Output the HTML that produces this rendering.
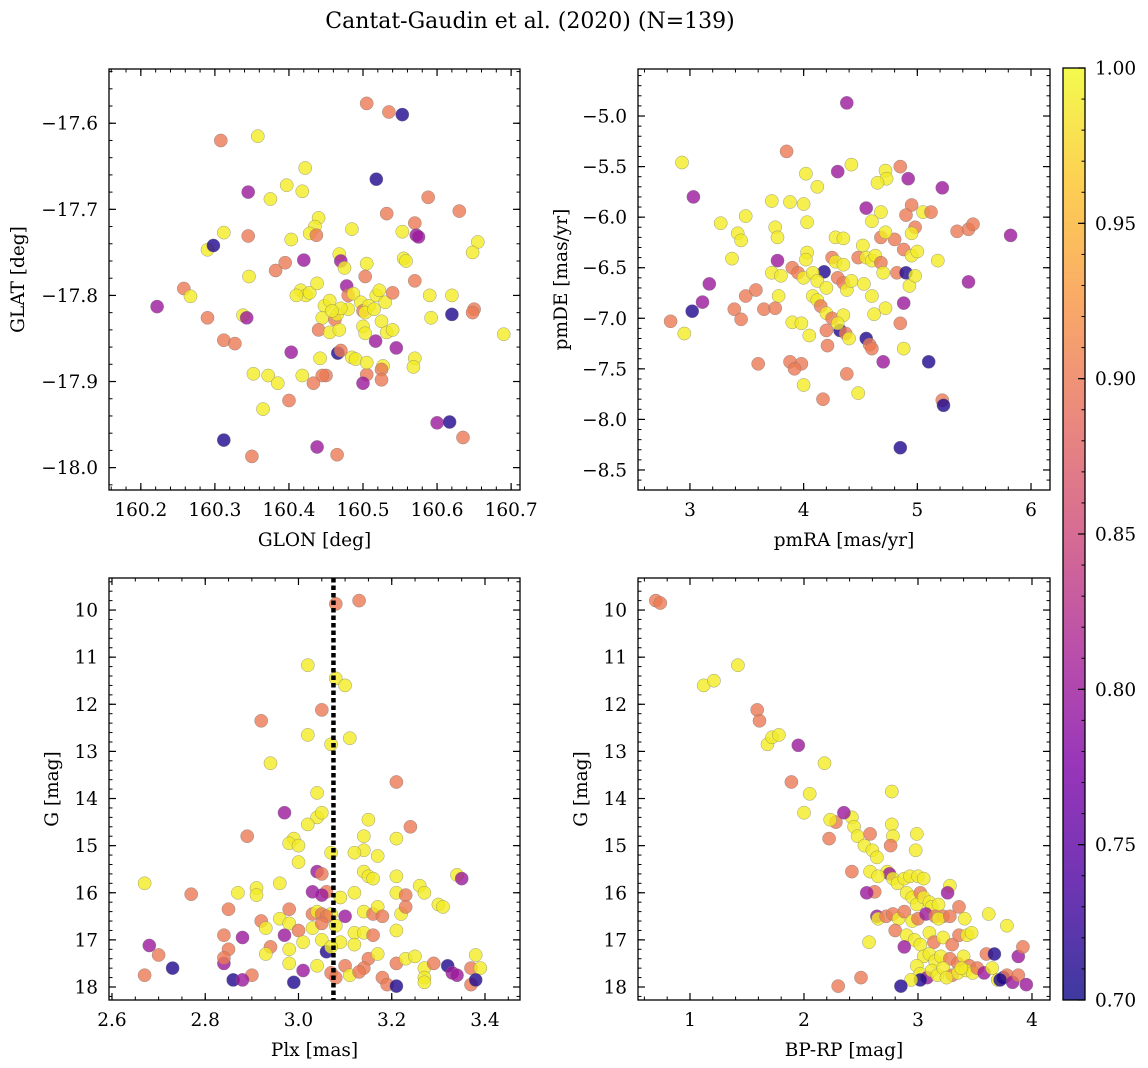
<!DOCTYPE html>
<html><head><meta charset="utf-8"><style>
html,body{margin:0;padding:0;background:#fff;}
svg{display:block;font-family:"DejaVu Serif","Liberation Serif",serif;}
</style></head><body>
<svg id="fig" width="1148" height="1068" xmlns="http://www.w3.org/2000/svg">
<defs>
<linearGradient id="plasma" x1="0" y1="1" x2="0" y2="0">
<stop offset="0" stop-color="#0d0887"/><stop offset="0.125" stop-color="#4c02a1"/><stop offset="0.25" stop-color="#7e03a8"/><stop offset="0.375" stop-color="#a92395"/><stop offset="0.5" stop-color="#cc4778"/><stop offset="0.625" stop-color="#e56b5d"/><stop offset="0.75" stop-color="#f89441"/><stop offset="0.875" stop-color="#fdc328"/><stop offset="1" stop-color="#f0f921"/>
</linearGradient>
</defs>
<text x="530" y="28" font-size="22" text-anchor="middle">Cantat-Gaudin et al. (2020) (N=139)</text>
</svg>
<script>
const Y=0.99,O=0.90,P=0.80,B=0.71;
const glonGlat=[[160.505,-17.577,O],[160.535,-17.587,O],[160.553,-17.590,B],[160.308,-17.620,O],[160.358,-17.615,Y],[160.518,-17.665,B],[160.290,-17.747,Y],[160.298,-17.742,B],[160.312,-17.727,Y],[160.345,-17.680,P],[160.375,-17.688,Y],[160.397,-17.672,Y],[160.422,-17.652,Y],[160.418,-17.679,Y],[160.440,-17.710,Y],[160.435,-17.720,Y],[160.428,-17.728,Y],[160.437,-17.730,O],[160.345,-17.731,O],[160.403,-17.735,Y],[160.485,-17.723,Y],[160.532,-17.705,O],[160.588,-17.686,O],[160.630,-17.702,O],[160.570,-17.716,O],[160.553,-17.726,Y],[160.572,-17.730,P],[160.575,-17.732,P],[160.655,-17.738,Y],[160.648,-17.750,Y],[160.468,-17.752,Y],[160.470,-17.760,P],[160.420,-17.759,P],[160.346,-17.778,Y],[160.382,-17.771,O],[160.395,-17.762,O],[160.555,-17.757,Y],[160.558,-17.760,Y],[160.505,-17.763,Y],[160.475,-17.768,Y],[160.503,-17.778,O],[160.570,-17.783,O],[160.222,-17.813,P],[160.258,-17.792,O],[160.267,-17.801,Y],[160.290,-17.826,O],[160.338,-17.823,Y],[160.343,-17.826,P],[160.416,-17.794,Y],[160.423,-17.800,Y],[160.428,-17.797,Y],[160.438,-17.786,Y],[160.448,-17.812,Y],[160.455,-17.806,Y],[160.478,-17.789,P],[160.480,-17.800,O],[160.487,-17.798,Y],[160.497,-17.808,Y],[160.500,-17.818,O],[160.508,-17.812,Y],[160.518,-17.800,Y],[160.522,-17.794,Y],[160.530,-17.808,Y],[160.540,-17.797,O],[160.590,-17.800,Y],[160.620,-17.800,Y],[160.650,-17.816,O],[160.648,-17.820,O],[160.620,-17.822,B],[160.592,-17.826,Y],[160.445,-17.826,Y],[160.462,-17.828,O],[160.465,-17.822,Y],[160.480,-17.816,Y],[160.503,-17.820,Y],[160.515,-17.816,Y],[160.525,-17.830,Y],[160.532,-17.843,Y],[160.540,-17.840,Y],[160.440,-17.840,O],[160.455,-17.843,Y],[160.468,-17.840,Y],[160.500,-17.836,Y],[160.503,-17.844,Y],[160.517,-17.853,P],[160.312,-17.852,O],[160.327,-17.856,O],[160.403,-17.866,P],[160.466,-17.867,B],[160.470,-17.864,O],[160.485,-17.872,Y],[160.490,-17.874,Y],[160.442,-17.873,Y],[160.545,-17.861,P],[160.570,-17.873,Y],[160.568,-17.883,Y],[160.527,-17.882,Y],[160.525,-17.886,O],[160.505,-17.892,O],[160.500,-17.902,P],[160.505,-17.878,Y],[160.450,-17.893,O],[160.445,-17.893,O],[160.433,-17.902,O],[160.418,-17.893,Y],[160.372,-17.893,Y],[160.385,-17.902,Y],[160.352,-17.891,Y],[160.525,-17.898,O],[160.400,-17.922,O],[160.365,-17.932,Y],[160.312,-17.968,B],[160.438,-17.976,P],[160.350,-17.987,O],[160.465,-17.985,O],[160.600,-17.948,P],[160.617,-17.947,B],[160.635,-17.965,O],[160.690,-17.845,Y],[160.470,-17.815,Y],[160.410,-17.800,Y],[160.458,-17.818,Y]];
const pmRaDe=[[4.38,-4.87,P],[3.85,-5.35,O],[2.93,-5.46,Y],[4.42,-5.48,Y],[4.30,-5.55,P],[4.72,-5.54,Y],[4.85,-5.50,O],[4.92,-5.62,P],[4.73,-5.62,Y],[4.65,-5.66,Y],[4.02,-5.57,Y],[4.12,-5.70,Y],[3.03,-5.80,P],[5.22,-5.71,P],[3.49,-5.99,Y],[3.72,-5.84,Y],[3.88,-5.85,Y],[4.00,-5.87,Y],[4.95,-5.88,O],[5.05,-5.95,Y],[5.12,-5.95,O],[4.90,-5.98,O],[4.55,-5.91,P],[4.68,-5.95,Y],[4.60,-6.04,Y],[3.27,-6.06,Y],[3.42,-6.16,Y],[3.45,-6.23,Y],[3.75,-6.10,Y],[3.77,-6.20,Y],[4.03,-6.05,Y],[4.28,-6.20,Y],[4.35,-6.21,Y],[4.52,-6.28,Y],[4.68,-6.20,O],[4.80,-6.22,O],[4.72,-6.15,Y],[4.98,-6.10,O],[4.95,-6.16,Y],[5.35,-6.14,O],[5.45,-6.12,O],[5.49,-6.07,O],[5.82,-6.18,P],[4.88,-6.32,O],[4.95,-6.38,Y],[5.00,-6.34,Y],[5.18,-6.43,Y],[4.18,-6.54,B],[4.03,-6.35,Y],[4.02,-6.42,Y],[4.25,-6.40,O],[4.28,-6.44,Y],[4.35,-6.47,Y],[4.48,-6.40,O],[4.55,-6.40,Y],[4.60,-6.43,Y],[4.63,-6.38,Y],[4.68,-6.45,O],[3.37,-6.41,Y],[3.77,-6.43,P],[3.72,-6.55,Y],[3.80,-6.58,Y],[3.90,-6.50,O],[3.95,-6.55,O],[4.00,-6.60,Y],[4.08,-6.55,Y],[4.12,-6.63,Y],[4.20,-6.70,Y],[4.30,-6.60,O],[4.35,-6.65,O],[4.38,-6.72,Y],[4.42,-6.63,Y],[4.53,-6.66,Y],[4.60,-6.78,Y],[4.70,-6.55,Y],[4.82,-6.55,O],[4.90,-6.55,B],[4.93,-6.68,Y],[4.98,-6.58,Y],[4.88,-6.85,P],[5.45,-6.64,P],[3.17,-6.66,P],[3.11,-6.84,P],[3.02,-6.93,B],[3.39,-6.91,O],[3.49,-6.78,O],[3.58,-6.72,O],[3.45,-7.01,O],[3.65,-6.91,O],[3.78,-6.78,Y],[3.75,-6.90,O],[3.90,-7.04,Y],[3.98,-7.05,Y],[4.08,-6.78,Y],[4.12,-6.82,Y],[4.15,-6.88,O],[4.20,-6.95,Y],[4.25,-7.00,O],[4.35,-6.97,Y],[4.32,-7.12,B],[4.37,-7.15,O],[4.40,-7.20,Y],[4.30,-7.05,Y],[4.62,-6.96,Y],[4.72,-6.90,Y],[4.55,-7.20,B],[4.58,-7.26,O],[4.60,-7.30,O],[4.85,-7.05,O],[4.88,-7.30,Y],[4.70,-7.43,P],[5.10,-7.43,B],[4.21,-7.27,O],[4.20,-7.12,O],[2.83,-7.03,O],[2.95,-7.15,Y],[3.60,-7.45,O],[3.88,-7.43,O],[3.98,-7.45,O],[3.92,-7.50,O],[4.00,-7.66,Y],[4.17,-7.80,O],[4.38,-7.55,O],[4.48,-7.74,Y],[5.22,-7.81,O],[5.23,-7.86,B],[4.85,-8.28,B],[4.05,-7.17,Y]];
const plxG=[[3.08,9.87,O],[3.13,9.80,O],[3.02,11.17,Y],[3.08,11.45,Y],[3.10,11.60,Y],[3.05,12.12,O],[3.02,12.65,Y],[3.11,12.72,Y],[2.92,12.35,O],[3.07,12.85,Y],[2.94,13.25,Y],[3.21,13.65,O],[3.04,13.88,Y],[2.97,14.30,P],[3.04,14.40,Y],[3.05,14.30,Y],[3.15,14.45,Y],[3.02,14.55,Y],[2.89,14.80,O],[2.99,14.85,Y],[3.14,14.80,Y],[3.21,14.85,Y],[3.24,14.60,O],[2.98,14.95,Y],[3.00,15.00,Y],[3.14,15.10,Y],[3.12,15.15,Y],[3.07,15.15,Y],[3.17,15.22,Y],[3.00,15.35,Y],[3.04,15.55,P],[3.05,15.60,O],[3.14,15.55,Y],[3.15,15.65,Y],[3.16,15.70,Y],[3.21,15.65,Y],[3.34,15.62,Y],[3.35,15.70,P],[2.67,15.80,Y],[2.77,16.03,O],[2.87,16.00,Y],[2.91,15.90,Y],[2.96,15.80,Y],[2.91,16.05,Y],[3.03,15.98,P],[3.06,15.98,O],[3.05,16.05,P],[3.09,16.10,Y],[3.12,16.00,Y],[3.21,16.00,Y],[3.23,16.05,O],[3.26,15.85,Y],[3.27,16.00,Y],[3.30,16.25,Y],[3.31,16.30,Y],[2.92,16.60,O],[2.96,16.55,Y],[2.98,16.35,O],[3.03,16.45,O],[3.04,16.40,Y],[3.05,16.45,O],[3.07,16.45,Y],[3.06,16.50,O],[3.10,16.50,P],[3.14,16.40,Y],[3.16,16.45,O],[3.17,16.30,Y],[3.18,16.50,O],[3.22,16.45,Y],[3.23,16.30,O],[2.85,16.35,O],[2.93,16.75,Y],[2.98,16.65,Y],[3.00,16.80,O],[3.03,16.75,Y],[3.05,16.65,O],[3.08,16.70,Y],[3.12,16.85,Y],[3.14,16.85,Y],[3.16,16.90,O],[3.21,16.80,Y],[2.88,16.95,P],[2.94,17.15,O],[2.97,16.90,P],[3.01,17.05,Y],[3.05,17.00,Y],[3.09,17.05,Y],[3.12,17.10,Y],[3.15,17.40,O],[3.17,17.30,Y],[3.06,17.25,B],[3.07,17.15,Y],[2.84,16.90,O],[2.85,17.20,O],[2.84,17.50,P],[2.68,17.12,P],[2.70,17.32,O],[2.67,17.75,O],[2.73,17.60,B],[2.84,17.38,O],[2.90,17.75,O],[2.93,17.30,Y],[2.98,17.50,Y],[3.01,17.65,P],[3.04,17.55,Y],[3.10,17.55,O],[3.11,17.75,Y],[3.14,17.60,O],[3.07,17.70,O],[3.08,17.80,O],[3.18,17.80,O],[3.21,17.50,O],[3.23,17.40,Y],[3.25,17.35,Y],[3.27,17.60,Y],[3.27,17.80,Y],[3.27,17.90,Y],[3.29,17.50,O],[3.32,17.55,B],[3.33,17.70,P],[3.34,17.75,P],[3.37,17.60,O],[3.38,17.32,Y],[3.39,17.60,Y],[3.37,17.95,O],[3.38,17.85,B],[2.86,17.85,B],[2.88,17.85,P],[2.99,17.90,B],[3.19,17.95,O],[3.21,17.98,B],[3.13,17.68,O],[2.98,17.20,Y]];
const bprpG=[[0.70,9.80,O],[0.74,9.85,O],[1.12,11.60,Y],[1.21,11.50,Y],[1.42,11.17,Y],[1.59,12.12,O],[1.61,12.35,O],[1.68,12.85,Y],[1.72,12.70,Y],[1.78,12.65,Y],[1.95,12.87,P],[2.18,13.25,Y],[1.89,13.65,O],[2.00,14.30,Y],[2.05,13.90,Y],[2.28,14.50,O],[2.23,14.45,Y],[2.42,14.40,Y],[2.35,14.30,P],[2.44,14.60,Y],[2.47,14.80,Y],[2.53,15.00,Y],[2.58,14.75,O],[2.22,14.85,O],[2.60,15.10,Y],[2.64,15.25,Y],[2.77,13.85,Y],[2.77,14.55,Y],[2.78,14.80,Y],[2.76,15.00,O],[2.99,14.75,Y],[2.98,15.10,Y],[2.73,15.55,Y],[2.75,15.60,P],[2.78,15.70,Y],[2.42,15.55,O],[2.58,15.55,Y],[2.65,15.65,Y],[2.62,15.98,O],[2.55,16.00,P],[2.82,15.80,Y],[2.88,15.70,Y],[2.93,15.65,Y],[3.00,15.65,Y],[3.05,15.70,Y],[2.90,16.00,Y],[2.95,16.10,Y],[2.99,16.25,Y],[3.02,16.00,O],[3.05,16.10,Y],[3.10,16.20,Y],[3.12,16.30,Y],[3.18,16.25,Y],[3.28,15.85,Y],[3.26,16.00,P],[3.22,16.50,O],[2.64,16.50,P],[2.65,16.55,Y],[2.72,16.50,O],[2.78,16.45,O],[2.83,16.55,Y],[2.88,16.40,O],[2.95,16.60,Y],[3.00,16.55,O],[3.07,16.45,P],[3.15,16.50,O],[3.18,16.55,Y],[3.28,16.50,O],[3.36,16.30,O],[3.41,16.55,Y],[3.62,16.45,Y],[3.78,16.70,Y],[2.57,17.05,Y],[2.80,16.80,O],[2.90,16.90,Y],[2.97,17.00,Y],[3.02,17.10,Y],[3.10,16.85,Y],[3.14,17.05,O],[3.22,16.95,Y],[3.30,17.10,O],[3.36,16.90,O],[3.43,16.90,Y],[3.47,16.85,Y],[2.88,17.15,P],[3.05,17.35,Y],[3.10,17.30,Y],[3.15,17.45,Y],[3.20,17.35,Y],[3.28,17.40,O],[3.35,17.50,O],[3.40,17.35,Y],[3.45,17.55,O],[3.60,17.30,O],[3.67,17.30,B],[3.88,17.35,P],[3.92,17.15,O],[2.99,17.55,Y],[3.02,17.72,Y],[3.08,17.80,P],[3.12,17.65,Y],[3.17,17.75,Y],[3.22,17.60,Y],[3.30,17.75,O],[3.35,17.70,Y],[3.42,17.65,Y],[3.48,17.70,Y],[3.52,17.60,O],[3.58,17.70,P],[3.65,17.60,Y],[3.70,17.85,Y],[3.75,17.80,B],[3.78,17.75,O],[3.83,17.90,P],[3.88,17.75,O],[3.95,17.95,P],[3.02,17.85,B],[2.94,17.85,Y],[2.85,17.98,B],[2.50,17.80,O],[2.30,17.98,O],[3.72,17.85,B],[3.25,17.80,Y],[3.38,17.60,Y]];
const glonTicks=[160.2,160.3,160.4,160.5,160.6,160.7];
const glatTicks=[-17.6,-17.7,-17.8,-17.9,-18.0];
const pmraTicks=[3,4,5,6];
const pmdeTicks=[-5.0,-5.5,-6.0,-6.5,-7.0,-7.5,-8.0,-8.5];
const plxTicks=[2.6,2.8,3.0,3.2,3.4];
const gTicks=[10,11,12,13,14,15,16,17,18];
const bprpTicks=[1,2,3,4];
const cbarTicks=[0.70,0.75,0.80,0.85,0.90,0.95,1.00];
const plxMean=3.075;

const NS='http://www.w3.org/2000/svg';
const svg=document.getElementById('fig');
const FS=18.5;
function mk(tag,attrs,parent){const e=document.createElementNS(NS,tag);for(const k in attrs)e.setAttribute(k,attrs[k]);(parent||svg).appendChild(e);return e;}
const stops=[[0,[13,8,135]],[0.125,[76,2,161]],[0.25,[126,3,168]],[0.375,[169,35,149]],[0.5,[204,71,120]],[0.625,[229,107,93]],[0.75,[248,148,65]],[0.875,[253,195,40]],[1,[240,249,33]]];
function plasma(p){let t=Math.max(0,Math.min(1,(p-0.7)/0.3));for(let i=1;i<stops.length;i++){if(t<=stops[i][0]){const a=stops[i-1],b=stops[i];const f=(t-a[0])/(b[0]-a[0]);const c=a[1].map((v,j)=>Math.round(v+(b[1][j]-v)*f));return 'rgb('+c.join(',')+')';}}return 'rgb(240,249,33)';}
function fmt(v,d){return (v<0?'\u2212':'')+Math.abs(v).toFixed(d);}

function panel(cfg){
  const g=mk('g',{});
  
  
  const {L,R,T,Bt,x0,x1,y0,y1}=cfg;
  const sx=v=>L+(v-x0)/(x1-x0)*(R-L);
  const sy=v=>T+(v-y0)/(y1-y0)*(Bt-T);
  const clip='c'+cfg.name;
  const cp=mk('clipPath',{id:clip},g);mk('rect',{x:L,y:T,width:R-L,height:Bt-T},cp);
  const pts=mk('g',{'clip-path':'url(#'+clip+')'},g);
  cfg.data.forEach(d=>{
    const c=mk('circle',{cx:sx(d[0]).toFixed(1),cy:sy(d[1]).toFixed(1),r:6.6,fill:plasma(d[2]),'fill-opacity':0.8,stroke:'#777','stroke-width':0.5,'stroke-opacity':0.7},pts);
    
    
  });
  if(cfg.vline!==undefined){
    const l=mk('line',{x1:sx(cfg.vline),x2:sx(cfg.vline),y1:T,y2:Bt,stroke:'#000','stroke-width':4.5,'stroke-dasharray':'4.5,3'},g);
    
    
  }
  const ax=mk('rect',{x:L,y:T,width:R-L,height:Bt-T,fill:'none',stroke:'#000','stroke-width':1.3},g);
  
  
  for(let v=Math.ceil(Math.min(x0,x1)/cfg.xm)*cfg.xm;v<=Math.max(x0,x1);v+=cfg.xm){const X=sx(v);mk('line',{x1:X,x2:X,y1:Bt,y2:Bt-3.5,stroke:'#000','stroke-width':1},g);mk('line',{x1:X,x2:X,y1:T,y2:T+3.5,stroke:'#000','stroke-width':1},g);}
  for(let v=Math.ceil(Math.min(y0,y1)/cfg.ym)*cfg.ym;v<=Math.max(y0,y1);v+=cfg.ym){const Yv=sy(v);mk('line',{x1:L,x2:L+3.5,y1:Yv,y2:Yv,stroke:'#000','stroke-width':1},g);mk('line',{x1:R,x2:R-3.5,y1:Yv,y2:Yv,stroke:'#000','stroke-width':1},g);}
  cfg.xt.forEach(v=>{const X=sx(v);mk('line',{x1:X,x2:X,y1:Bt,y2:Bt-7,stroke:'#000','stroke-width':1.2},g);mk('line',{x1:X,x2:X,y1:T,y2:T+7,stroke:'#000','stroke-width':1.2},g);
    const t=mk('text',{x:X,y:Bt+26,'font-size':FS,'text-anchor':'middle'},g);t.textContent=fmt(v,cfg.xd);
    
    });
  cfg.yt.forEach(v=>{const Yv=sy(v);mk('line',{x1:L,x2:L+7,y1:Yv,y2:Yv,stroke:'#000','stroke-width':1.2},g);mk('line',{x1:R,x2:R-7,y1:Yv,y2:Yv,stroke:'#000','stroke-width':1.2},g);
    const t=mk('text',{x:L-11,y:Yv+6.5,'font-size':FS,'text-anchor':'end'},g);t.textContent=fmt(v,cfg.yd);
    
    });
  const xl=mk('text',{x:(L+R)/2,y:Bt+56,'font-size':FS,'text-anchor':'middle'},g);xl.textContent=cfg.xl;
  
  
  const yx=cfg.ylx, yy=(T+Bt)/2;
  const yl=mk('text',{x:yx,y:yy,'font-size':FS,'text-anchor':'middle',transform:'rotate(-90 '+yx+' '+yy+')'},g);yl.textContent=cfg.yl;
  
  
}
panel({name:'glon-glat-panel',L:109,R:520,T:69,Bt:490,x0:160.157,x1:160.712,y0:-17.537,y1:-18.026,xm:0.02,ym:0.02,xt:glonTicks,yt:glatTicks,xd:1,yd:1,xl:'GLON [deg]',yl:'GLAT [deg]',ylx:24,data:glonGlat});
panel({name:'pm-panel',L:638,R:1050,T:69,Bt:490,x0:2.543,x1:6.167,y0:-4.535,y1:-8.698,xm:0.2,ym:0.1,xt:pmraTicks,yt:pmdeTicks,xd:0,yd:1,xl:'pmRA [mas/yr]',yl:'pmDE [mas/yr]',ylx:567,data:pmRaDe});
panel({name:'plx-g-panel',L:109,R:520,T:578,Bt:1000,x0:2.5936,x1:3.4751,y0:9.32,y1:18.276,xm:0.05,ym:0.2,xt:plxTicks,yt:gTicks,xd:1,yd:0,xl:'Plx [mas]',yl:'G [mag]',ylx:58,data:plxG,vline:plxMean});
panel({name:'cmd-panel',L:638,R:1050,T:578,Bt:1000,x0:0.544,x1:4.158,y0:9.32,y1:18.276,xm:0.2,ym:0.2,xt:bprpTicks,yt:gTicks,xd:0,yd:0,xl:'BP-RP [mag]',yl:'G [mag]',ylx:587,data:bprpG});
const cb=mk('g',{});


const cT=68,cB=1000,cL=1063,cR=1085;
mk('rect',{x:cL,y:cT,width:cR-cL,height:cB-cT,fill:'url(#plasma)','fill-opacity':0.8},cb);
mk('rect',{x:cL,y:cT,width:cR-cL,height:cB-cT,fill:'none',stroke:'#000','stroke-width':1.3},cb);
const cy=v=>cB-(v-0.7)/0.3*(cB-cT);
for(let i=70;i<=100;i++){const Yv=cy(i/100);mk('line',{x1:cR,x2:cR-3.5,y1:Yv,y2:Yv,stroke:'#000','stroke-width':1},cb);}
cbarTicks.forEach(v=>{const Yv=cy(v);mk('line',{x1:cR,x2:cR-7,y1:Yv,y2:Yv,stroke:'#000','stroke-width':1.2},cb);
  const t=mk('text',{x:cR+10,y:Yv+6.5,'font-size':FS},cb);t.textContent=v.toFixed(2);
  
  });
</script>
</body></html>
